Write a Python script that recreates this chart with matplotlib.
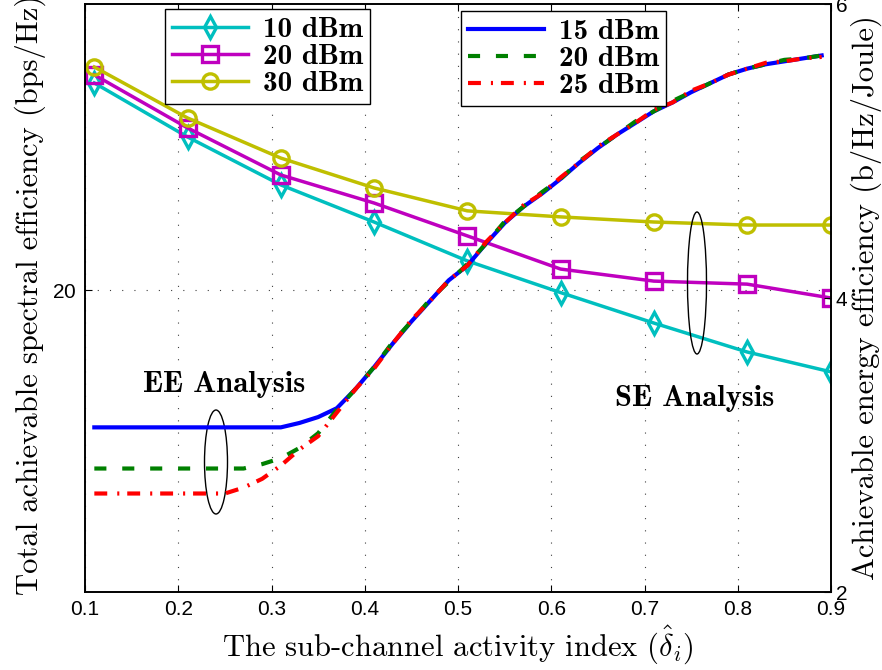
'''
    SE / EE vs sub-channel activity index
'''

import matplotlib
matplotlib.use('Agg')
import matplotlib.pyplot as plt
from matplotlib.patches import Ellipse

plt.rcParams['mathtext.fontset'] = 'cm'
plt.rcParams['axes.formatter.use_mathtext'] = True

# Eficiencia espectral (eje izquierdo)
se_x = [0.11, 0.21, 0.31, 0.41, 0.51, 0.61, 0.71, 0.81, 0.90]
se_10dbm = [26.88, 25.09, 23.50, 22.27, 20.98, 19.93, 18.92, 17.96, 17.30]
se_20dbm = [27.15, 25.39, 23.83, 22.90, 21.81, 20.71, 20.31, 20.21, 19.75]
se_30dbm = [27.41, 25.72, 24.39, 23.40, 22.64, 22.44, 22.27, 22.17, 22.17]
se_labels = ['10 dBm', '20 dBm', '30 dBm']

# Eficiencia energética (eje derecho)
ee_x = [0.11, 0.15, 0.19, 0.23, 0.25, 0.27, 0.29, 0.31, 0.33, 0.35, 0.37, 0.39,
        0.41, 0.43, 0.45, 0.47, 0.49, 0.51, 0.53, 0.55, 0.57, 0.59, 0.61, 0.63,
        0.65, 0.67, 0.69, 0.71, 0.73, 0.75, 0.77, 0.79, 0.81, 0.83, 0.85, 0.87, 0.89]
ee_15dbm = [3.12, 3.12, 3.12, 3.12, 3.12, 3.12, 3.12, 3.12, 3.15, 3.19, 3.25, 3.38,
            3.53, 3.69, 3.84, 3.98, 4.12, 4.22, 4.37, 4.51, 4.62, 4.71, 4.81, 4.92,
            5.02, 5.11, 5.19, 5.27, 5.33, 5.40, 5.46, 5.52, 5.56, 5.59, 5.61, 5.63, 5.65]
ee_20dbm = [2.84, 2.84, 2.84, 2.84, 2.84, 2.84, 2.87, 2.91, 2.98, 3.08, 3.24, 3.38,
            3.53, 3.70, 3.84, 3.99, 4.11, 4.23, 4.37, 4.52, 4.62, 4.72, 4.81, 4.93,
            5.02, 5.11, 5.20, 5.27, 5.34, 5.40, 5.46, 5.52, 5.56, 5.59, 5.62, 5.63, 5.65]
ee_25dbm = [2.67, 2.67, 2.67, 2.67, 2.67, 2.71, 2.77, 2.86, 2.97, 3.06, 3.22, 3.38,
            3.52, 3.69, 3.85, 3.98, 4.12, 4.22, 4.38, 4.51, 4.63, 4.71, 4.82, 4.92,
            5.03, 5.11, 5.19, 5.28, 5.33, 5.41, 5.46, 5.52, 5.56, 5.60, 5.61, 5.63, 5.64]
ee_labels = ['15 dBm', '20 dBm', '25 dBm']

x_ticks = [0.1, 0.2, 0.3, 0.4, 0.5, 0.6, 0.7, 0.8, 0.9]

fig = plt.figure(figsize=(8.82, 6.70), dpi=100)
ax1 = fig.add_axes([85 / 882, 78 / 670, 746 / 882, 588 / 670])
ax2 = ax1.twinx()

# Curvas SE
se_style = dict(linewidth=2.5, markersize=11, markerfacecolor='none', markeredgewidth=2.4)
l1, = ax1.plot(se_x, se_10dbm, color='#00BFBF', marker='d', **se_style)
l2, = ax1.plot(se_x, se_20dbm, color='#BF00BF', marker='s', **se_style)
l3, = ax1.plot(se_x, se_30dbm, color='#BFBF00', marker='o', **se_style)

# Curvas EE
e1, = ax2.plot(ee_x, ee_15dbm, color='#0000FF', linewidth=3)
e2, = ax2.plot(ee_x, ee_20dbm, color='#008000', linewidth=3, dashes=(2.9, 3.8))
e3, = ax2.plot(ee_x, ee_25dbm, color='#FF0000', linewidth=3, dashes=(3.1, 2.4, 0.5, 1.9))

ax1.set_xlim(0.1, 0.9)
ax1.set_ylim(10, 29.5)
ax2.set_ylim(2, 6)
ax1.set_xticks(x_ticks)
ax1.set_xticklabels([f'{v:.1f}' for v in x_ticks])
ax1.set_yticks([20])
ax2.set_yticks([2, 4, 6])

for lab in ax1.get_xticklabels() + ax1.get_yticklabels() + ax2.get_yticklabels():
    lab.set_fontfamily('Liberation Sans')
    lab.set_fontsize(15)

ax1.tick_params(axis='both', direction='in', length=5, width=0.8, top=True, right=False, pad=6)
ax2.tick_params(axis='y', direction='in', length=5, width=0.8, pad=3)
for ax in (ax1, ax2):
    for sp in ax.spines.values():
        sp.set_linewidth(1.2)

ax1.grid(True, color='0.25', linestyle=(0, (1, 10)), linewidth=0.8)

lbl_font = dict(fontfamily='cmr10', fontsize=22)
ax1.set_xlabel(r'The sub-channel activity index $(\hat{\delta}_i)$', va='center', **lbl_font)
ax1.set_ylabel('Total achievable spectral efficiency (bps/Hz)', va='center', **lbl_font)
ax2.set_ylabel('Achievable energy efficiency (b/Hz/Joule)', va='center', **lbl_font)
ax1.xaxis.set_label_coords(0.5, -0.09)
ax1.yaxis.set_label_coords(-0.074, 0.505)
ax2.yaxis.set_label_coords(1.047, 0.5)

# Leyendas
leg_opts = dict(prop={'family': 'cmb10', 'size': 21}, fancybox=False, edgecolor='black',
                framealpha=1, handlelength=2.6, borderpad=0.25, labelspacing=0.02,
                handletextpad=0.5, borderaxespad=0)
leg1 = ax2.legend([l1, l2, l3], se_labels, loc='upper left',
                  bbox_to_anchor=((165 - 85) / 746, (592 - 9) / 588), **leg_opts)
leg1.get_frame().set_linewidth(1.0)
ax2.add_artist(leg1)
leg2 = ax2.legend([e1, e2, e3], ee_labels, loc='upper left',
                  bbox_to_anchor=((461 - 85) / 746, (592 - 11) / 588), **leg_opts)
leg2.get_frame().set_linewidth(1.0)

# Anotaciones
ax2.add_patch(Ellipse(((216 - 85) / 746, (592 - 462) / 588), 23 / 746, 104 / 588,
                      transform=ax2.transAxes, fill=False, edgecolor='black', linewidth=1))
ax2.add_patch(Ellipse(((697 - 85) / 746, (592 - 283) / 588), 19 / 746, 142 / 588,
                      transform=ax2.transAxes, fill=False, edgecolor='black', linewidth=1))
ax2.text((224 - 85) / 746, (592 - 384) / 588, 'EE Analysis', transform=ax2.transAxes,
         ha='center', va='center', fontfamily='cmb10', fontsize=22)
ax2.text((695 - 85) / 746, (592 - 399) / 588, 'SE Analysis', transform=ax2.transAxes,
         ha='center', va='center', fontfamily='cmb10', fontsize=22)

fig.savefig('out.png', dpi=100)
